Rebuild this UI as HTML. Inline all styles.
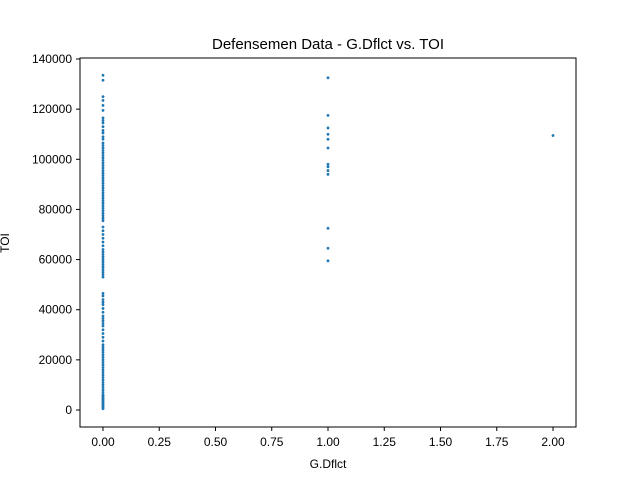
<!DOCTYPE html>
<html><head><meta charset="utf-8"><style>
body{margin:0;background:#fff;}
svg{font-family:"Liberation Sans",sans-serif;}
</style></head><body>
<svg id="chart" width="640" height="480">
<rect width="640" height="480" fill="#fff"/>
<text x="328" y="49" font-size="15" text-anchor="middle">Defensemen Data - G.Dflct vs. TOI</text>
<text x="328" y="468" font-size="12" text-anchor="middle">G.Dflct</text>
<text transform="translate(9,243) rotate(-90)" font-size="12" text-anchor="middle">TOI</text>
<g id="ticks"></g>
<g id="points"></g>
<rect x="80" y="58" width="496" height="369" fill="none" stroke="#000" stroke-width="1"/>
</svg>
<script>
const xTicks=[0,0.25,0.5,0.75,1,1.25,1.5,1.75,2];
const xTickLabels=["0.00","0.25","0.50","0.75","1.00","1.25","1.50","1.75","2.00"];
const yTicks=[0,20000,40000,60000,80000,100000,120000,140000];
const yTickLabels=["0","20000","40000","60000","80000","100000","120000","140000"];
const ones=[132500,117500,112500,110000,108000,104500,98000,97000,95500,94000,72500,64500,59500];
const twos=[109500];
const zeros=[133500,131500,125000,123500,121500,119500,116500,115500,114500,113000,111500,110500,109000,108000,106500,105500,104500,103500,102500,101500,100500,99500,98500,97500,96500,95500,94500,93500,92500,91500,90500,89500,88500,87500,86500,85500,84500,83500,82500,81500,80500,79500,78500,77500,76500,75500,73000,71500,70000,68500,67000,65500,64000,63000,62000,61000,60000,59000,58000,57000,56000,55000,54000,53000,46500,45500,44000,43000,42000,40500,39000,37500,36500,35500,34500,33500,32000,30500,29000,27500,26000,25000,24000,23000,22000,21000,20000,19000,18000,17000,16000,15000,14000,13000,12000,11000,10000,9000,8000,7000,6000,5500,5000,4500,4000,3500,3000,2500,2000,1500,1000,500];
const xS=v=>103+v*225;
const yS=v=>410-v*351/140000;
const NS="http://www.w3.org/2000/svg";
const tg=document.getElementById('ticks');
xTicks.forEach((t,i)=>{
 const l=document.createElementNS(NS,'line');
 l.setAttribute('x1',xS(t));l.setAttribute('x2',xS(t));l.setAttribute('y1',427);l.setAttribute('y2',431);l.setAttribute('stroke','#000');
 
 
 tg.appendChild(l);
 const tx=document.createElementNS(NS,'text');
 tx.setAttribute('x',xS(t));tx.setAttribute('y',446);tx.setAttribute('font-size','12');tx.setAttribute('text-anchor','middle');
 tx.textContent=xTickLabels[i];
 
 
 tg.appendChild(tx);
});
yTicks.forEach((t,i)=>{
 const l=document.createElementNS(NS,'line');
 l.setAttribute('x1',76);l.setAttribute('x2',80);l.setAttribute('y1',yS(t));l.setAttribute('y2',yS(t));l.setAttribute('stroke','#000');
 
 
 tg.appendChild(l);
 const tx=document.createElementNS(NS,'text');
 tx.setAttribute('x',72);tx.setAttribute('y',yS(t)+4);tx.setAttribute('font-size','12');tx.setAttribute('text-anchor','end');
 tx.textContent=yTickLabels[i];
 
 
 tg.appendChild(tx);
});
const pg=document.getElementById('points');
function add(x,v){
 const c=document.createElementNS(NS,'circle');
 c.setAttribute('cx',xS(x));c.setAttribute('cy',yS(v));c.setAttribute('r',1.4);c.setAttribute('fill','#1f77b4');
 
 
 pg.appendChild(c);
}
zeros.forEach(v=>add(0,v));
ones.forEach(v=>add(1,v));
twos.forEach(v=>add(2,v));
</script>
</body></html>
